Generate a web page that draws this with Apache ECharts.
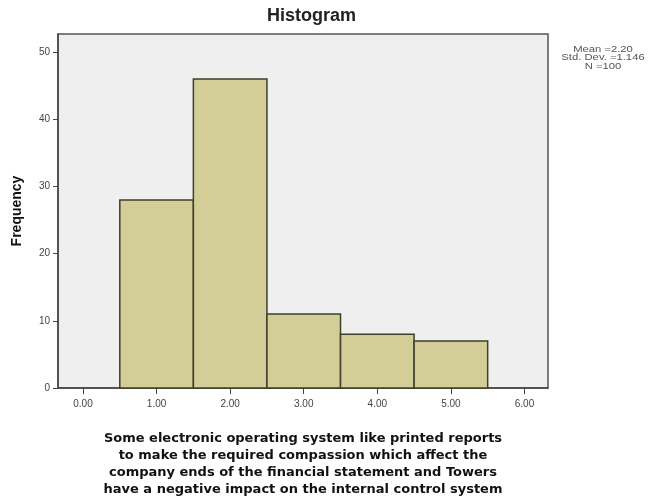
<!DOCTYPE html>
<html>
<head>
<meta charset="utf-8">
<script src="https://cdn.jsdelivr.net/npm/echarts@6/dist/echarts.min.js"></script>
<style>html,body{margin:0;padding:0;background:#fff;}#c{width:666px;height:503px;}</style>
</head>
<body>
<div id="c"></div>
<script>
const binCenters = [1, 2, 3, 4, 5];
const frequencies = [28, 46, 11, 8, 7];
const binWidth = 1;
const xTickValues = [0, 1, 2, 3, 4, 5, 6];
const yTickValues = [0, 10, 20, 30, 40, 50];
const statLines = ['Mean =2.20', 'Std. Dev. =1.146', 'N =100'];
const xTitle = 'Some electronic operating system like printed reports\nto make the required compassion which affect the\ncompany ends of the financial statement and Towers\nhave a negative impact on the internal control system';

const chart = echarts.init(document.getElementById('c'), null, {renderer: 'canvas'});
const data = binCenters.map((c, i) => [c - binWidth / 2, c + binWidth / 2, frequencies[i]]);

chart.setOption({
  animation: false,
  backgroundColor: '#ffffff',
  textStyle: {fontFamily: 'Liberation Sans, Arial, sans-serif'},
  grid: {left: 58, right: 118, top: 34, bottom: 108, show: true, backgroundColor: '#efefef', borderColor: '#555', borderWidth: 1.5},
  xAxis: {
    type: 'value', min: -0.34, max: 6.32,
    splitLine: {show: false},
    axisLine: {show: true, onZero: false, lineStyle: {color: '#444', width: 1.5}},
    axisTick: {show: true, customValues: xTickValues, length: 6, lineStyle: {color: '#444'}},
    axisLabel: {customValues: xTickValues, formatter: v => v.toFixed(2), color: '#444', fontSize: 10, margin: 11},
    name: xTitle, nameLocation: 'middle', nameGap: 42,
    nameTextStyle: {fontFamily: 'DejaVu Sans', fontWeight: 'bold', fontSize: 13, color: '#111', lineHeight: 17, align: 'center'}
  },
  yAxis: {
    type: 'value', min: 0, max: 52.7,
    splitLine: {show: false},
    axisLine: {show: true, onZero: false, lineStyle: {color: '#444', width: 1.5}},
    axisTick: {show: true, customValues: yTickValues, length: 5, lineStyle: {color: '#444'}},
    axisLabel: {customValues: yTickValues, color: '#444', fontSize: 10, margin: 8},
    name: 'Frequency', nameLocation: 'middle', nameGap: 34,
    nameTextStyle: {fontWeight: 'bold', fontSize: 14, color: '#111'}
  },
  graphic: [
    {type: 'text', left: 267, top: 7, style: {text: 'Histogram', font: 'bold 18px Liberation Sans', fill: '#222'}},
    {type: 'text', x: 603, y: 45, scaleX: 1.25, style: {text: statLines.join('\n'), font: '9px Liberation Sans', lineHeight: 8.5, fill: '#555', align: 'center'}}
  ],
  series: [{
    type: 'custom',
    data: data,
    encode: {x: [0, 1], y: 2},
    renderItem: function (params, api) {
      const p0 = api.coord([api.value(0), api.value(2)]);
      const p1 = api.coord([api.value(1), 0]);
      return {
        type: 'rect',
        shape: {x: p0[0], y: p0[1], width: p1[0] - p0[0], height: p1[1] - p0[1]},
        style: {fill: '#d3ce97', stroke: '#3f3f2c', lineWidth: 1.5}
      };
    }
  }]
});
</script>
</body>
</html>
